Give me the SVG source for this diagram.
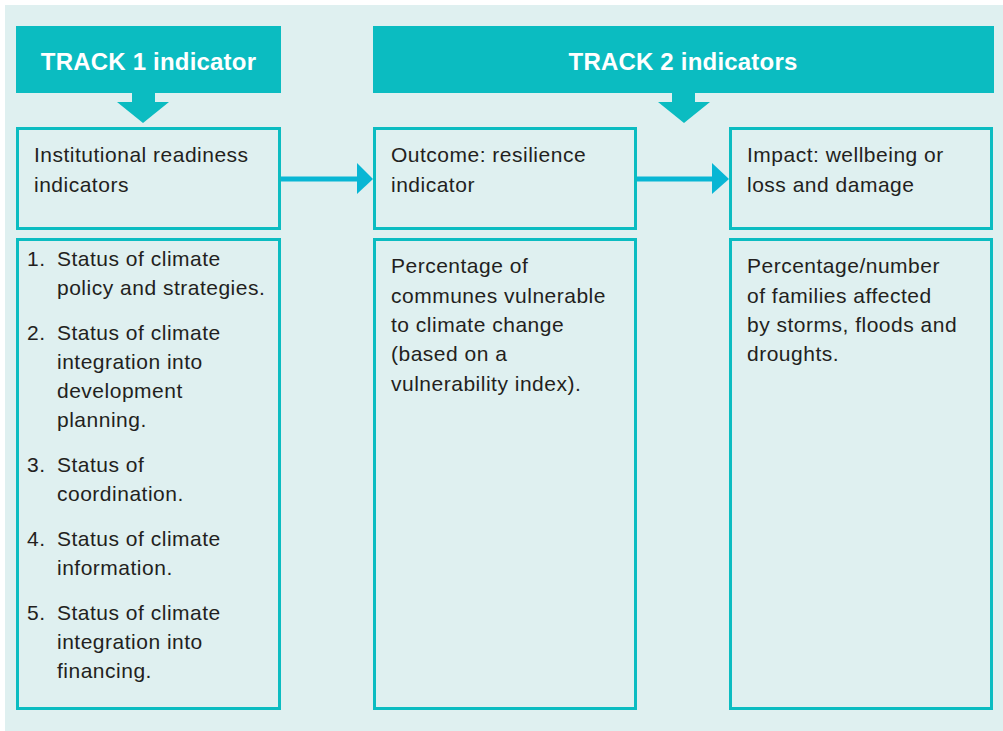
<svg xmlns="http://www.w3.org/2000/svg" width="1003" height="731" viewBox="0 0 1003 731">
<style>
.hdr{fill:#0bbcc1}
.box{fill:none;stroke:#0bbcc1;stroke-width:3}
.t{font-family:"Liberation Sans",Arial,sans-serif;font-size:21px;fill:#231f20;letter-spacing:0.5px}
.h{font-family:"Liberation Sans",Arial,sans-serif;font-size:24px;font-weight:bold;fill:#ffffff;text-anchor:middle;letter-spacing:0.2px}
.arr{fill:#08b6d4}
.darr{fill:#0bbcc1}
</style>
<rect x="5" y="5" width="998" height="726" fill="#dff0f0"/>
<g id="track1-header">
<rect class="hdr" x="16" y="26" width="265" height="67"/>
<text class="h" x="148.5" y="70">TRACK 1 indicator</text>
</g>
<g id="track2-header">
<rect class="hdr" x="373" y="26" width="621" height="67"/>
<text class="h" x="683" y="70">TRACK 2 indicators</text>
</g>
<g id="institutional">
<rect class="box" x="17.5" y="128.5" width="262" height="100"/>
<text class="t"><tspan x="34" y="162">Institutional readiness</tspan><tspan x="34" y="192">indicators</tspan></text>
</g>
<g id="institutional-list">
<rect class="box" x="17.5" y="239.5" width="262" height="469"/>
<text class="t">
<tspan x="27" y="266">1.</tspan><tspan x="57" y="266">Status of climate</tspan><tspan x="57" y="295">policy and strategies.</tspan>
<tspan x="27" y="340">2.</tspan><tspan x="57" y="340">Status of climate</tspan><tspan x="57" y="369">integration into</tspan><tspan x="57" y="398">development</tspan><tspan x="57" y="427">planning.</tspan>
<tspan x="27" y="472">3.</tspan><tspan x="57" y="472">Status of</tspan><tspan x="57" y="501">coordination.</tspan>
<tspan x="27" y="546">4.</tspan><tspan x="57" y="546">Status of climate</tspan><tspan x="57" y="575">information.</tspan>
<tspan x="27" y="620">5.</tspan><tspan x="57" y="620">Status of climate</tspan><tspan x="57" y="649">integration into</tspan><tspan x="57" y="678">financing.</tspan>
</text>
</g>
<g id="outcome">
<rect class="box" x="374.5" y="128.5" width="261" height="100"/>
<text class="t"><tspan x="391" y="162">Outcome: resilience</tspan><tspan x="391" y="192">indicator</tspan></text>
</g>
<g id="outcome-detail">
<rect class="box" x="374.5" y="239.5" width="261" height="469"/>
<text class="t"><tspan x="391" y="273">Percentage of</tspan><tspan x="391" y="303">communes vulnerable</tspan><tspan x="391" y="332">to climate change</tspan><tspan x="391" y="361">(based on a</tspan><tspan x="391" y="391">vulnerability index).</tspan></text>
</g>
<g id="impact">
<rect class="box" x="730.5" y="128.5" width="261" height="100"/>
<text class="t"><tspan x="747" y="162">Impact: wellbeing or</tspan><tspan x="747" y="192">loss and damage</tspan></text>
</g>
<g id="impact-detail">
<rect class="box" x="730.5" y="239.5" width="261" height="469"/>
<text class="t"><tspan x="747" y="273">Percentage/number</tspan><tspan x="747" y="303">of families affected</tspan><tspan x="747" y="332">by storms, floods and</tspan><tspan x="747" y="361">droughts.</tspan></text>
</g>
<g id="connectors">
<rect class="darr" x="132" y="93" width="23" height="10"/>
<polygon class="darr" points="117,102 169,102 143,123"/>
<rect class="darr" x="672" y="93" width="23" height="10"/>
<polygon class="darr" points="658,102 710,102 684,123"/>
<rect class="arr" x="281" y="176.5" width="78" height="5"/>
<polygon class="arr" points="357,163 373,179 357,194"/>
<rect class="arr" x="637" y="176.5" width="77" height="5"/>
<polygon class="arr" points="712,163 729,179 712,194"/>
</g>
</svg>
